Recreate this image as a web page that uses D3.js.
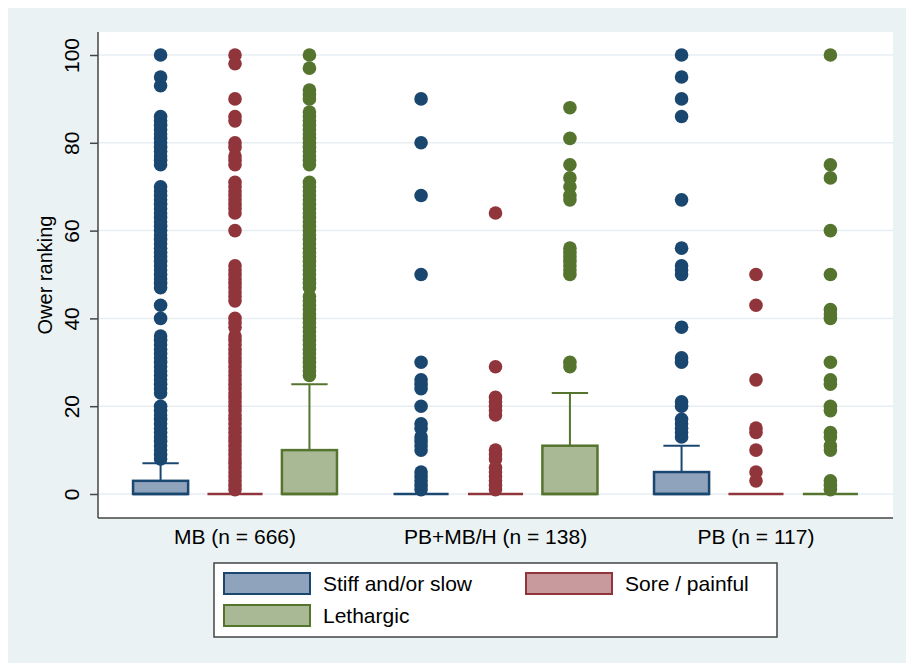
<!DOCTYPE html>
<html>
<head>
<meta charset="utf-8">
<script src="https://cdn.jsdelivr.net/npm/d3@7"></script>
<style>
body { margin: 0; background: #fff; }
text { font-family: Helvetica, Arial, "Liberation Sans", sans-serif; fill: #000; }
</style>
</head>
<body>
<svg id="chart" width="906" height="663"></svg>
<script>
var groups = ["MB (n = 666)", "PB+MB/H (n = 138)", "PB (n = 117)"];
var series = ["Stiff and/or slow", "Sore / painful", "Lethargic"];
var yTicks = [0, 20, 40, 60, 80, 100];

// box stats per group: [q1, median, q3, lower whisker, upper whisker]
var stiffBox = [[0, 0, 3, 0, 7], [0, 0, 0, 0, 0], [0, 0, 5, 0, 11]];
var soreBox = [[0, 0, 0, 0, 0], [0, 0, 0, 0, 0], [0, 0, 0, 0, 0]];
var lethBox = [[0, 0, 10, 0, 25], [0, 0, 11, 0, 23], [0, 0, 0, 0, 0]];

// outside values per group
var stiffOut = [
    [100, 95, 93, 86, 85, 84, 83, 82, 81, 80, 79, 78, 77, 76, 75, 70, 69, 68, 67, 66, 65, 64, 63, 62, 61, 60,
     59, 58, 57, 56, 55, 54, 53, 52, 51, 50, 49, 48, 47, 43, 40, 36, 35, 34, 33, 32, 31, 30, 29, 28, 27, 26,
     25, 24, 23, 20, 19, 18, 17, 16, 15, 14, 13, 12, 11, 10, 9, 8],
    [90, 80, 68, 50, 30, 26, 25, 24, 20, 16, 15, 13, 12, 11, 10, 5, 4, 3, 2, 1],
    [100, 95, 90, 86, 67, 56, 52, 51, 50, 38, 31, 30, 21, 20, 17, 16, 15, 14, 13]
];
var soreOut = [
    [100, 98, 90, 86, 85, 80, 79, 77, 76, 75, 71, 70, 69, 68, 67, 66, 65, 64, 60, 52, 51, 50, 49, 48, 47, 46,
     45, 44, 40, 39, 38, 36, 35, 34, 33, 32, 31, 30, 29, 28, 27, 26, 25, 24, 23, 22, 21, 20, 19, 18, 17, 16,
     15, 14, 13, 12, 11, 10, 9, 8, 7, 6, 5, 4, 3, 2, 1],
    [64, 29, 22, 21, 20, 19, 18, 10, 9, 8, 6, 5, 4, 3, 2, 1],
    [50, 43, 26, 15, 14, 10, 5, 3]
];
var lethOut = [
    [100, 97, 92, 91, 90, 87, 86, 85, 84, 83, 82, 81, 80, 79, 78, 77, 76, 75, 71, 70, 69, 68, 67, 66, 65, 64,
     63, 62, 61, 60, 59, 58, 57, 56, 55, 54, 53, 52, 51, 50, 49, 48, 47, 45, 44, 43, 42, 41, 40, 39, 38, 37,
     36, 35, 34, 33, 32, 31, 30, 29, 28, 27],
    [88, 81, 75, 72, 70, 68, 67, 56, 55, 54, 53, 52, 51, 50, 30, 29],
    [100, 75, 72, 60, 50, 42, 41, 40, 30, 26, 25, 20, 19, 14, 13, 11, 10, 3, 2, 1]
];

var lineColors = ["#1a476f", "#90353b", "#55752f"];
var fillColors = ["#8fa3bc", "#c89a9d", "#aab995"];
var boxes = [stiffBox, soreBox, lethBox];
var outs = [stiffOut, soreOut, lethOut];

var svg = d3.select('#chart');
var plot_left = 98, plot_right = 893, plot_top = 32, plot_bottom = 518;

var y = d3.scaleLinear().domain([0, 100]).range([494, 55]);
var x0 = d3.scaleBand().domain(groups).range([plot_left, plot_right]).paddingInner(0).paddingOuter(0.026);
var x1 = d3.scaleBand().domain(series).range([0, x0.bandwidth()]).paddingInner(0.26).paddingOuter(0.38);

// backgrounds
svg.append('rect').attr('x', 8).attr('y', 8).attr('width', 898).attr('height', 655).attr('fill', '#eaf2f3');
svg.append('rect').attr('x', plot_left).attr('y', plot_top)
    .attr('width', plot_right - plot_left).attr('height', plot_bottom - plot_top).attr('fill', '#fff');

// grid
svg.append('g').selectAll('line').data(yTicks).enter().append('line')
    .attr('x1', plot_left).attr('x2', plot_right)
    .attr('y1', function(d) { return y(d); }).attr('y2', function(d) { return y(d); })
    .attr('stroke', '#e6eef2').attr('stroke-width', 1.5);

// boxes
var bw = x1.bandwidth();
series.forEach(function(s, si) {
    groups.forEach(function(g, gi) {
        var b = boxes[si][gi];
        var cx = x0(g) + x1(s) + bw / 2;
        var gg = svg.append('g');
        // whisker
        if (b[4] > b[2]) {
            gg.append('line').attr('x1', cx).attr('x2', cx).attr('y1', y(b[2])).attr('y2', y(b[4]))
                .attr('stroke', lineColors[si]).attr('stroke-width', 2);
            gg.append('line').attr('x1', cx - bw * 0.33).attr('x2', cx + bw * 0.33)
                .attr('y1', y(b[4])).attr('y2', y(b[4]))
                .attr('stroke', lineColors[si]).attr('stroke-width', 2);
        }
        if (b[2] > b[0]) {
            gg.append('rect').attr('x', cx - bw / 2).attr('width', bw)
                .attr('y', y(b[2])).attr('height', y(b[0]) - y(b[2]))
                .attr('fill', fillColors[si]).attr('stroke', lineColors[si]).attr('stroke-width', 2.5);
        }
        gg.append('line').attr('x1', cx - bw / 2).attr('x2', cx + bw / 2)
            .attr('y1', y(b[1])).attr('y2', y(b[1]))
            .attr('stroke', lineColors[si]).attr('stroke-width', 2.5);
        // outside values
        gg.selectAll('circle').data(outs[si][gi]).enter().append('circle')
            .attr('cx', cx).attr('cy', function(d) { return y(d); }).attr('r', 6.8)
            .attr('fill', lineColors[si]);
    });
});

// axes
var yAxis = d3.axisLeft(y).tickValues(yTicks).tickSize(8).tickSizeOuter(0);
var ya = svg.append('g').attr('transform', 'translate(' + plot_left + ',0)').call(yAxis);
ya.select('.domain').remove();
ya.selectAll('line').attr('stroke', '#444').attr('stroke-width', 1.5);
ya.selectAll('text').attr('x', 0).attr('dy', 0).attr('text-anchor', 'middle')
    .attr('transform', 'translate(-19,0) rotate(-90)')
    .style('font-size', '21px').style('font-family', 'Helvetica, Arial, "Liberation Sans", sans-serif');
svg.append('line').attr('x1', plot_left).attr('x2', plot_left).attr('y1', plot_top).attr('y2', plot_bottom)
    .attr('stroke', '#444').attr('stroke-width', 1.5);
svg.append('line').attr('x1', plot_left).attr('x2', plot_right).attr('y1', plot_bottom).attr('y2', plot_bottom)
    .attr('stroke', '#444').attr('stroke-width', 1.5);

svg.append('text').attr('transform', 'translate(52,' + ((plot_top + plot_bottom) / 2) + ') rotate(-90)')
    .attr('text-anchor', 'middle').style('font-size', '20px').text('Ower ranking');

svg.append('g').selectAll('text').data(groups).enter().append('text')
    .attr('x', function(d) { return x0(d) + x0.bandwidth() / 2; }).attr('y', 544)
    .attr('text-anchor', 'middle').style('font-size', '21px').text(function(d) { return d; });

// legend
var lg = svg.append('g');
lg.append('rect').attr('x', 214).attr('y', 563).attr('width', 563).attr('height', 74)
    .attr('fill', '#fff').attr('stroke', '#444').attr('stroke-width', 1.5);
var legPos = [[224, 573], [526, 573], [224, 605]];
series.forEach(function(s, si) {
    lg.append('rect').attr('x', legPos[si][0]).attr('y', legPos[si][1]).attr('width', 86).attr('height', 21)
        .attr('fill', fillColors[si]).attr('stroke', lineColors[si]).attr('stroke-width', 2);
    lg.append('text').attr('x', legPos[si][0] + 99).attr('y', legPos[si][1] + 18)
        .style('font-size', '21px').text(s);
});
</script>
</body>
</html>
